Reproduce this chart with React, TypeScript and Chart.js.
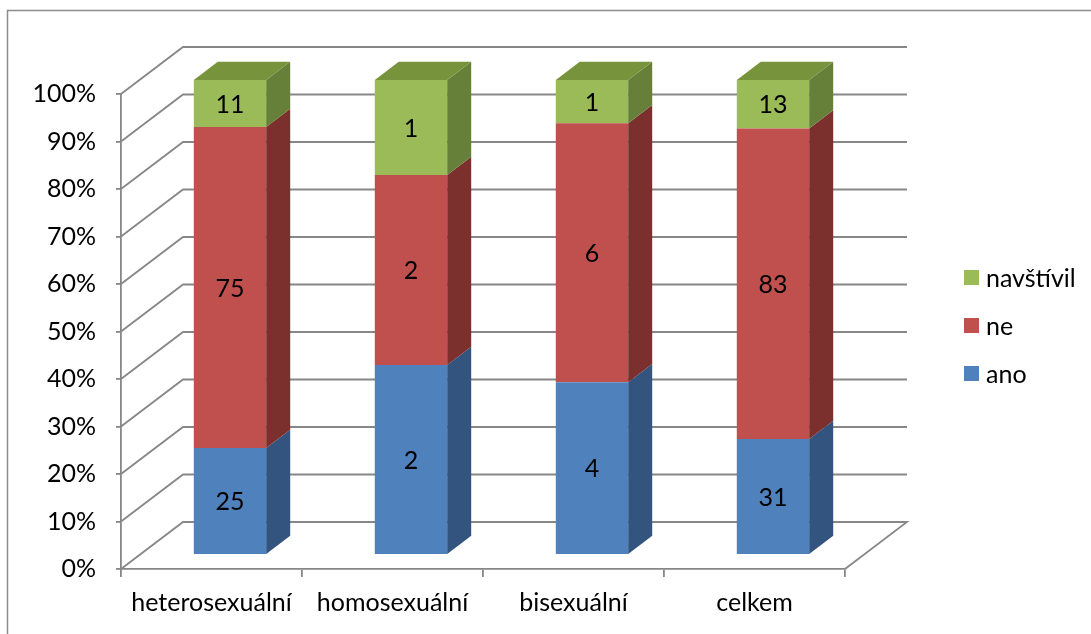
import React, { useEffect, useRef } from "react";
import { Chart, registerables } from "chart.js";

Chart.register(...registerables);

// ---- data ----
const categories = ["heterosexuální", "homosexuální", "bisexuální", "celkem"];
const seriesNames = ["ano", "ne", "navštívil"];
const anoCounts = [25, 2, 4, 31];
const neCounts = [75, 2, 6, 83];
const navstivilCounts = [11, 1, 1, 13];
const yTickValues = [0, 10, 20, 30, 40, 50, 60, 70, 80, 90, 100];

// ---- styles ----
const FONT = "Lato";
const FONT_SIZE = 25;
const GRID = "#878787";
const GRID_W = 1.8;
const frontColors = ["#4F81BD", "#C0504D", "#9BBB59"];
const sideColors = ["#33547E", "#7B302E", "#66803A"];
const topColors = ["#3F6797", "#9A403D", "#77933C"];

const WALL_DX = 62;
const WALL_DY = -47;
const BAR_OFF_X = 18.5;
const BAR_OFF_Y = -14;
const BAR_DX = 24;
const BAR_DY = -18.3;

const allCounts = [anoCounts, neCounts, navstivilCounts];
const totals = categories.map((_, i) => allCounts.reduce((s, arr) => s + arr[i], 0));
const toPct = (arr: number[]) => arr.map((v, i) => (v / totals[i]) * 100);

const poly = (ctx: CanvasRenderingContext2D, pts: number[][], fill: string) => {
  ctx.beginPath();
  ctx.moveTo(pts[0][0], pts[0][1]);
  for (let i = 1; i < pts.length; i++) ctx.lineTo(pts[i][0], pts[i][1]);
  ctx.closePath();
  ctx.fillStyle = fill;
  ctx.fill();
};

const frame3d = {
  id: "frame3d",
  beforeDraw(chart: any) {
    const ctx = chart.ctx as CanvasRenderingContext2D;
    ctx.save();
    ctx.fillStyle = "#ffffff";
    ctx.fillRect(0, 0, chart.width, chart.height);
    ctx.strokeStyle = "#8c8c8c";
    ctx.lineWidth = 1.5;
    ctx.strokeRect(7.5, 10.5, chart.width + 50, chart.height + 50);
    ctx.restore();
  },
  beforeDatasetsDraw(chart: any) {
    const ctx = chart.ctx as CanvasRenderingContext2D;
    const { left, right, bottom } = chart.chartArea;
    const ys = chart.scales.y;
    ctx.save();
    ctx.strokeStyle = GRID;
    ctx.lineWidth = GRID_W;
    ctx.lineJoin = "miter";
    for (const v of yTickValues) {
      const y = ys.getPixelForValue(v);
      ctx.beginPath();
      ctx.moveTo(left, y);
      ctx.lineTo(left + WALL_DX, y + WALL_DY);
      ctx.lineTo(right + WALL_DX, y + WALL_DY);
      if (v === 0) ctx.lineTo(right, bottom);
      ctx.stroke();
    }
    ctx.restore();
    ctx.save();
    ctx.translate(BAR_OFF_X, BAR_OFF_Y);
  },
  afterDatasetsDraw(chart: any) {
    const ctx = chart.ctx as CanvasRenderingContext2D;
    const nDs = chart.data.datasets.length;
    for (let d = 0; d < nDs; d++) {
      const meta = chart.getDatasetMeta(d);
      meta.data.forEach((el: any, i: number) => {
        const p = el.getProps(["x", "y", "base", "width"], true);
        const l = p.x - p.width / 2;
        const r = p.x + p.width / 2;
        const top = Math.min(p.y, p.base);
        const bot = Math.max(p.y, p.base);
        if (bot - top > 0.01) {
          poly(ctx, [[r, top], [r + BAR_DX, top + BAR_DY], [r + BAR_DX, bot + BAR_DY], [r, bot]], sideColors[d]);
        }
        let topDs = -1;
        for (let k = nDs - 1; k >= 0; k--) {
          if (allCounts[k][i] > 0) { topDs = k; break; }
        }
        if (topDs === d) {
          poly(ctx, [[l, top], [l + BAR_DX, top + BAR_DY], [r + BAR_DX, top + BAR_DY], [r, top]], topColors[d]);
        }
      });
    }
    // data labels
    ctx.fillStyle = "#000";
    ctx.font = `${FONT_SIZE}px ${FONT}`;
    ctx.textAlign = "center";
    ctx.textBaseline = "middle";
    for (let d = 0; d < nDs; d++) {
      const meta = chart.getDatasetMeta(d);
      meta.data.forEach((el: any, i: number) => {
        const p = el.getProps(["x", "y", "base"], true);
        ctx.fillText(String(allCounts[d][i]), p.x, (p.y + p.base) / 2 + 1);
      });
    }
    ctx.restore();
  },
  afterDraw(chart: any) {
    const ctx = chart.ctx as CanvasRenderingContext2D;
    ctx.save();
    const x = 964;
    const ys = [277.5, 325.5, 373.5];
    ctx.font = `${FONT_SIZE}px ${FONT}`;
    ctx.textAlign = "left";
    ctx.textBaseline = "middle";
    for (let k = 0; k < seriesNames.length; k++) {
      const d = seriesNames.length - 1 - k;
      ctx.fillStyle = frontColors[d];
      ctx.fillRect(x, ys[k] - 7.5, 15, 15);
      ctx.fillStyle = "#000";
      ctx.fillText(seriesNames[d], x + 22, ys[k] + 1);
    }
    ctx.restore();
  },
};

export default function App() {
  const ref = useRef<HTMLCanvasElement>(null);
  useEffect(() => {
    let chart: Chart | null = null;
    let cancelled = false;
    const make = () => {
      if (cancelled || !ref.current) return;
      chart = new Chart(ref.current, {
        type: "bar",
        data: {
          labels: categories,
          datasets: seriesNames.map((name, d) => ({
            label: name,
            data: toPct(allCounts[d]),
            backgroundColor: frontColors[d],
            borderWidth: 0,
            barPercentage: 0.4,
            categoryPercentage: 1,
            clip: false as any,
          })),
        },
        options: {
          responsive: false,
          animation: false,
          layout: { padding: { left: 0, right: 246, top: 94, bottom: 0 } },
          plugins: { legend: { display: false }, tooltip: { enabled: false } },
          scales: {
            x: {
              stacked: true,
              grid: { display: true, drawOnChartArea: false, drawTicks: true, tickLength: 8, color: GRID, lineWidth: GRID_W, offset: true },
              border: { display: true, color: GRID, width: GRID_W },
              ticks: { font: { family: FONT, size: FONT_SIZE }, color: "#000", padding: 11, maxRotation: 0, autoSkip: false },
              afterFit: (s: any) => { s.height = 65; },
            },
            y: {
              stacked: true,
              min: 0,
              max: 100,
              afterBuildTicks: (s: any) => { s.ticks = yTickValues.map((v) => ({ value: v })); },
              ticks: { callback: (v: any) => `${v}%`, font: { family: FONT, size: FONT_SIZE }, color: "#000", padding: 20 },
              grid: { display: true, drawOnChartArea: false, drawTicks: true, tickLength: 5, color: GRID, lineWidth: GRID_W },
              border: { display: true, color: GRID, width: GRID_W },
              afterFit: (s: any) => { s.width = 121; },
            },
          },
        } as any,
        plugins: [frame3d],
      });
    };
    const fonts: any = (document as any).fonts;
    if (fonts && fonts.load) {
      fonts.load(`${FONT_SIZE}px ${FONT}`).then(make, make);
    } else make();
    return () => {
      cancelled = true;
      if (chart) chart.destroy();
    };
  }, []);
  return (
    <div style={{ position: "fixed", left: 0, top: 0, width: 1091, height: 634, background: "#fff" }}>
      <canvas ref={ref} width={1091} height={634} style={{ display: "block" }} />
    </div>
  );
}
